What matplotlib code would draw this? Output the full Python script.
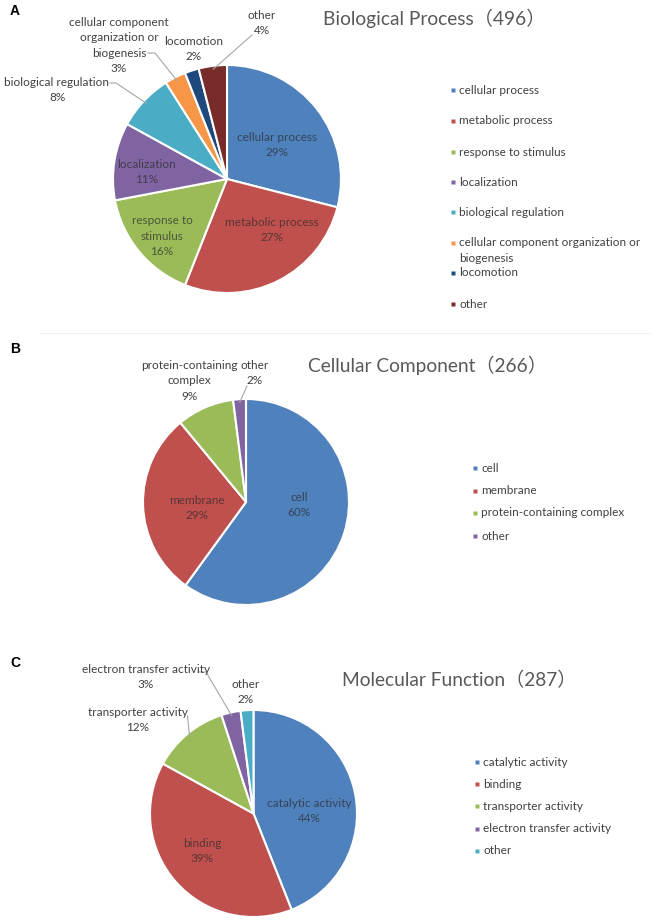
import numpy as np
import matplotlib
matplotlib.use('Agg')
import matplotlib.pyplot as plt

FONT = ['Lato', 'Noto Sans CJK SC', 'DejaVu Sans']
plt.rcParams['font.family'] = FONT

W, H = 660, 923

# data
bp_labels = ['cellular process', 'metabolic process', 'response to stimulus', 'localization',
             'biological regulation', 'cellular component organization or biogenesis',
             'locomotion', 'other']
bp_values = [29, 27, 16, 11, 8, 3, 2, 4]
bp_total = 496

cc_labels = ['cell', 'membrane', 'protein-containing complex', 'other']
cc_values = [60, 29, 9, 2]
cc_total = 266

mf_labels = ['catalytic activity', 'binding', 'transporter activity',
             'electron transfer activity', 'other']
mf_values = [44, 39, 12, 3, 2]
mf_total = 287

COLS = ['#4F81BD', '#C0504D', '#9BBB59', '#8064A2', '#4BACC6', '#F79646', '#1F497D', '#772C2A']
LABEL_COL = '#404040'
LINE_COL = '#A6A6A6'


def Y(y):
    # image row -> data y
    return H - y


def wedge_point(w, frac=1.0):
    th = np.deg2rad((w.theta1 + w.theta2) / 2)
    cx, cy = w.center
    return cx + w.r * frac * np.cos(th), cy + w.r * frac * np.sin(th)


def draw_panel(ax, letter, letter_y, title, title_xy, labels, values, center, r,
               inner, outer, leaders, leg_x, leg_y):
    wedges, _ = ax.pie(values, colors=COLS[:len(values)], startangle=90, counterclock=False,
                       center=(center[0], Y(center[1])), radius=r, frame=True,
                       wedgeprops=dict(edgecolor='white', linewidth=1.5))
    ax.text(10, Y(letter_y), letter, family='Liberation Sans',
            fontsize=10, fontweight='bold', va='center', ha='left')
    ax.text(title_xy[0], Y(title_xy[1]), title, fontsize=13.8, color='#595959',
            va='center', ha='left')

    for i, (x, y) in inner.items():
        name = labels[i].split('|')[0]
        name = name.replace('response to stimulus', 'response to\nstimulus')
        ax.text(x, Y(y), name + '\n%d%%' % values[i], fontsize=8.5, color='#2b2b2b',
                alpha=0.7, ha='center', va='center', linespacing=1.45)
    for i, (x, y, txt) in outer.items():
        ax.text(x, Y(y), txt + '\n%d%%' % values[i], fontsize=8.5, color=LABEL_COL,
                ha='center', va='center', linespacing=1.45)
    for i, pts in leaders.items():
        px, py = wedge_point(wedges[i], 0.97)
        xs = [p[0] for p in pts] + [px]
        ys = [Y(p[1]) for p in pts] + [py]
        ax.plot(xs, ys, color=LINE_COL, lw=0.8)

    for k, lab in enumerate(labels):
        y = leg_y[k]
        ax.plot(leg_x, Y(y), marker='s', ms=3.2, color=COLS[k], mec='none', ls='none')
        for j, p in enumerate(lab.split('|')):
            ax.text(leg_x + 6, Y(y + 15 * j), p, fontsize=8.5, color=LABEL_COL,
                    ha='left', va='center')


fig = plt.figure(figsize=(W / 100, H / 100), dpi=100)
ax = fig.add_axes([0, 0, 1, 1])

# faint separator between panels
ax.plot([40, 650], [Y(333), Y(333)], color='#f0f0f0', lw=0.8)

bp_leg = list(bp_labels)
bp_leg[5] = 'cellular component organization or|biogenesis'
draw_panel(ax, 'A', 11, 'Biological Process（%d）' % bp_total, (323, 18), bp_leg, bp_values,
           (227, 179), 114,
           inner={0: (277, 145), 1: (272, 230), 2: (162, 236), 3: (147, 172)},
           outer={7: (262, 23, 'other'), 6: (194, 49, 'locomotion'),
                  5: (119, 45.5, 'cellular component\norganization or\nbiogenesis'),
                  4: (57, 90, 'biological regulation')},
           leaders={4: [(110, 83), (116, 83)], 5: [(148, 53), (155, 53)], 7: [(252, 35)]},
           leg_x=453, leg_y=[90, 121, 152, 182, 212, 243, 273, 304])

draw_panel(ax, 'B', 349, 'Cellular Component（%d）' % cc_total, (308, 365), cc_labels, cc_values,
           (246, 502), 103,
           inner={0: (299, 505), 1: (197, 508)},
           outer={2: (189, 381, 'protein-containing\ncomplex'), 3: (255, 373, 'other')},
           leaders={3: [(247, 386)]},
           leg_x=475, leg_y=[468, 491, 513, 536])

draw_panel(ax, 'C', 663, 'Molecular Function（%d）' % mf_total, (342, 680), mf_labels, mf_values,
           (253.5, 813.5), 103.5,
           inner={0: (309, 811), 1: (202, 851)},
           outer={3: (146, 677, 'electron transfer activity'), 2: (138, 720, 'transporter activity'),
                  4: (246, 692, 'other')},
           leaders={3: [(198, 672), (206, 672)], 2: [(187.5, 716)]},
           leg_x=477, leg_y=[762, 784, 806, 829, 851])

ax.set_xlim(0, W)
ax.set_ylim(0, H)
ax.set_aspect('auto')
ax.axis('off')
fig.savefig('out.png', dpi=100)
